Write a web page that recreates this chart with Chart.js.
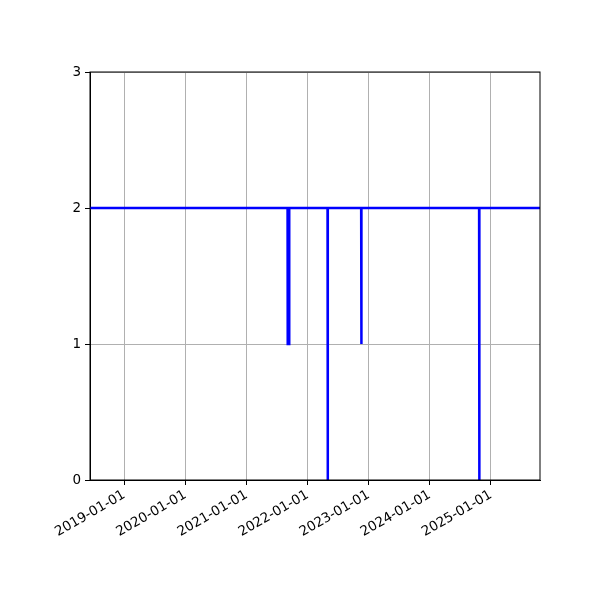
<!DOCTYPE html>
<html>
<head>
<meta charset="utf-8">
<script src="https://cdn.jsdelivr.net/npm/chart.js@4/dist/chart.umd.min.js"></script>
<style>
  html, body { margin: 0; padding: 0; background: #fff; }
  #wrap { width: 600px; height: 600px; }
</style>
</head>
<body>
<div id="wrap"><canvas id="chart" width="600" height="600"></canvas></div>
<script>
// --- DATA ---
const dates = [
  '2018-06-10',
  '2021-09-03', '2021-09-04', '2021-09-12', '2021-09-13',
  '2022-04-30', '2022-05-01', '2022-05-02',
  '2022-11-17', '2022-11-18', '2022-11-19',
  '2024-10-22', '2024-10-23', '2024-10-24',
  '2025-10-21'
];
const values = [
  2,
  2, 1, 1, 2,
  2, 0, 2,
  2, 1, 2,
  2, 0, 2,
  2
];
const xTickDates = ['2019-01-01', '2020-01-01', '2021-01-01', '2022-01-01', '2023-01-01', '2024-01-01', '2025-01-01'];
const yTicks = [0, 1, 2, 3];
const xRange = ['2018-06-10', '2025-10-21'];

const ts = d => Date.parse(d + 'T00:00:00Z');
const fmt = v => new Date(v).toISOString().slice(0, 10);

// frame around the plot area, like matplotlib spines
const frame = {
  id: 'frame',
  afterDraw(chart) {
    const { ctx, chartArea: a } = chart;
    ctx.save();
    ctx.strokeStyle = '#000';
    ctx.lineWidth = 1;
    ctx.strokeRect(a.left, a.top, a.right - a.left, a.bottom - a.top);
    ctx.restore();
  }
};

const font = { family: 'DejaVu Sans', size: 13.5 };

new Chart(document.getElementById('chart'), {
  type: 'line',
  data: {
    datasets: [{
      data: dates.map((d, i) => ({ x: ts(d), y: values[i] })),
      borderColor: '#0000ff',
      borderWidth: 2.5,
      pointRadius: 0,
      tension: 0,
      fill: false
    }]
  },
  options: {
    responsive: false,
    animation: false,
    layout: { padding: { top: 72, right: 60, left: 0, bottom: 0 } },
    plugins: { legend: { display: false }, tooltip: { enabled: false } },
    scales: {
      x: {
        type: 'linear',
        min: ts(xRange[0]),
        max: ts(xRange[1]),
        afterBuildTicks: s => { s.ticks = xTickDates.map(d => ({ value: ts(d) })); },
        afterFit: s => { s.height = 120; },
        grid: { color: '#b0b0b0', lineWidth: 1, tickColor: '#000', tickLength: 5 },
        border: { color: '#000' },
        ticks: {
          callback: v => fmt(v),
          color: '#000',
          font: font,
          minRotation: 30,
          maxRotation: 30,
          padding: 2,
          autoSkip: false
        }
      },
      y: {
        min: 0,
        max: 3,
        afterBuildTicks: s => { s.ticks = yTicks.map(v => ({ value: v })); },
        afterFit: s => { s.width = 90; },
        grid: { color: '#b0b0b0', lineWidth: 1, tickColor: '#000', tickLength: 5 },
        border: { color: '#000' },
        ticks: { color: '#000', font: font, padding: 4 }
      }
    }
  },
  plugins: [frame]
});
</script>
</body>
</html>
